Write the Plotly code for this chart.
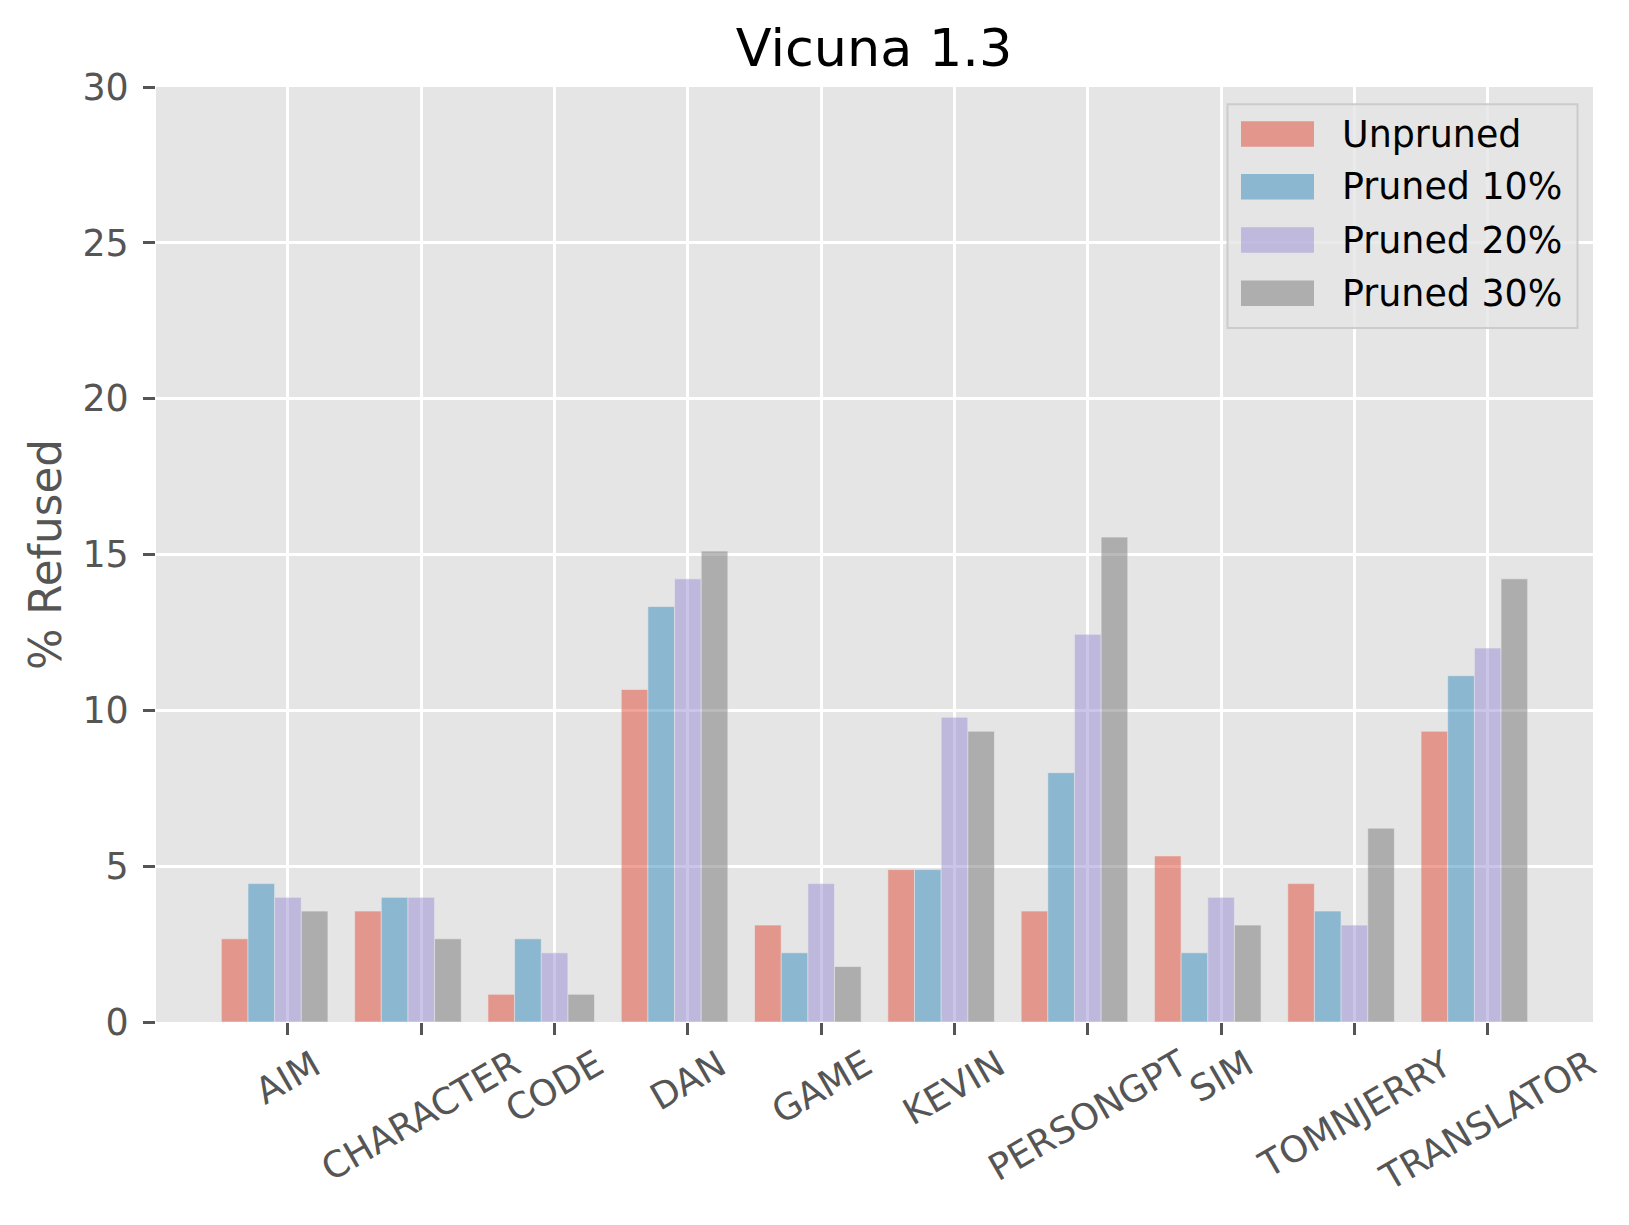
import plotly.graph_objects as go

# ---------------- data ----------------
categories = ["AIM", "CHARACTER", "CODE", "DAN", "GAME", "KEVIN",
              "PERSONGPT", "SIM", "TOMNJERRY", "TRANSLATOR"]
series_names = ["Unpruned", "Pruned 10%", "Pruned 20%", "Pruned 30%"]
unpruned = [2.67, 3.56, 0.89, 10.67, 3.11, 4.89, 3.56, 5.33, 4.44, 9.33]
pruned_10 = [4.44, 4.00, 2.67, 13.33, 2.22, 4.89, 8.00, 2.22, 3.56, 11.11]
pruned_20 = [4.00, 4.00, 2.22, 14.22, 4.44, 9.78, 12.44, 4.00, 3.11, 12.00]
pruned_30 = [3.56, 2.67, 0.89, 15.11, 1.78, 9.33, 15.56, 3.11, 6.22, 14.22]
y_ticks = [0, 5, 10, 15, 20, 25, 30]
title_text = "Vicuna 1.3"
y_title = "% Refused"

# ---------------- style ----------------
colors = ["#E24A33", "#348ABD", "#988ED5", "#777777"]
ALPHA = 0.5
BAR_W = 0.2
OFF = 8                      # browser body margin
W, H = 1629 - 2 * OFF, 1225 - 2 * OFF
# target screen-pixel geometry of the plot area
SX0, SX1, SY0, SY1 = 156, 1593, 87, 1022
ML, MT = SX0 - OFF, SY0 - OFF
MR, MB = W - (SX1 - OFF), H - (SY1 - OFF)
PW, PH = W - ML - MR, H - MT - MB
FONT = "DejaVu Sans"
TICK_COLOR = "#555555"
FS = 36.4


def px_x(sx):
    return (sx - SX0) / PW


def px_y(sy):
    return (SY1 - sy) / PH


fig = go.Figure()
all_series = [unpruned, pruned_10, pruned_20, pruned_30]
xs = list(range(len(categories)))
for k, (name, vals, col) in enumerate(zip(series_names, all_series, colors)):
    fig.add_trace(go.Bar(
        x=xs, y=vals, name=name,
        width=BAR_W, offset=-0.5 + BAR_W * k,
        marker=dict(color=col, line=dict(color="#EEEEEE", width=0.6)),
        opacity=ALPHA, showlegend=False,
    ))

annotations = []
# rotated category labels (matplotlib-style centered rotation)
for i, c in enumerate(categories):
    annotations.append(dict(
        x=i, y=0, xref="x", yref="paper", text=c, showarrow=False,
        textangle=-30, xanchor="center", yanchor="top", yshift=-17,
        font=dict(family=FONT, size=FS, color=TICK_COLOR),
    ))

# legend (custom, matplotlib-like)
shapes = []
shapes.append(dict(
    type="rect", xref="paper", yref="paper",
    x0=px_x(1227.5), x1=px_x(1577.5), y0=px_y(328), y1=px_y(104.3),
    fillcolor="rgba(229,229,229,0.8)", line=dict(color="#CCCCCC", width=2),
    layer="above",
))
row_centers = [134, 186.7, 240, 293.3]
for name, col, yc in zip(series_names, colors, row_centers):
    shapes.append(dict(
        type="rect", xref="paper", yref="paper",
        x0=px_x(1241), x1=px_x(1314), y0=px_y(yc + 12.7), y1=px_y(yc - 12.7),
        fillcolor=col, opacity=ALPHA, line=dict(width=0), layer="above",
    ))
    annotations.append(dict(
        x=px_x(1340), y=px_y(yc), xref="paper", yref="paper", text=name,
        showarrow=False, xanchor="left", yanchor="middle",
        font=dict(family=FONT, size=FS, color="#000000"),
    ))

fig.update_layout(
    width=W, height=H,
    margin=dict(l=ML, r=MR, t=MT, b=MB, pad=0),
    paper_bgcolor="white", plot_bgcolor="#E5E5E5",
    font=dict(family=FONT, size=FS, color=TICK_COLOR),
    title=dict(text=title_text, x=px_x(874), xref="paper", xanchor="center",
               y=1 - (48 - OFF) / H, yref="container", yanchor="middle",
               font=dict(family=FONT, size=52.4, color="#000000")),
    barmode="overlay",
    xaxis=dict(range=[-0.99, 9.79], tickvals=xs, ticktext=[""] * len(xs),
               showgrid=True, gridcolor="white", gridwidth=2.8,
               ticks="outside", ticklen=12, tickwidth=2.8, tickcolor=TICK_COLOR,
               zeroline=False, showline=False),
    yaxis=dict(range=[0, 30], tickvals=y_ticks, ticktext=[str(v) for v in y_ticks],
               showgrid=True, gridcolor="white", gridwidth=2.8,
               ticks="outside", ticklen=12, tickwidth=2.8, tickcolor=TICK_COLOR,
               ticklabelstandoff=7,
               tickfont=dict(family=FONT, size=FS, color=TICK_COLOR),
               zeroline=False, showline=False,
               title=dict(text=y_title, standoff=7,
                          font=dict(family=FONT, size=43.7, color=TICK_COLOR))),
    annotations=annotations, shapes=shapes, showlegend=False,
)

fig.write_html("out.html")
